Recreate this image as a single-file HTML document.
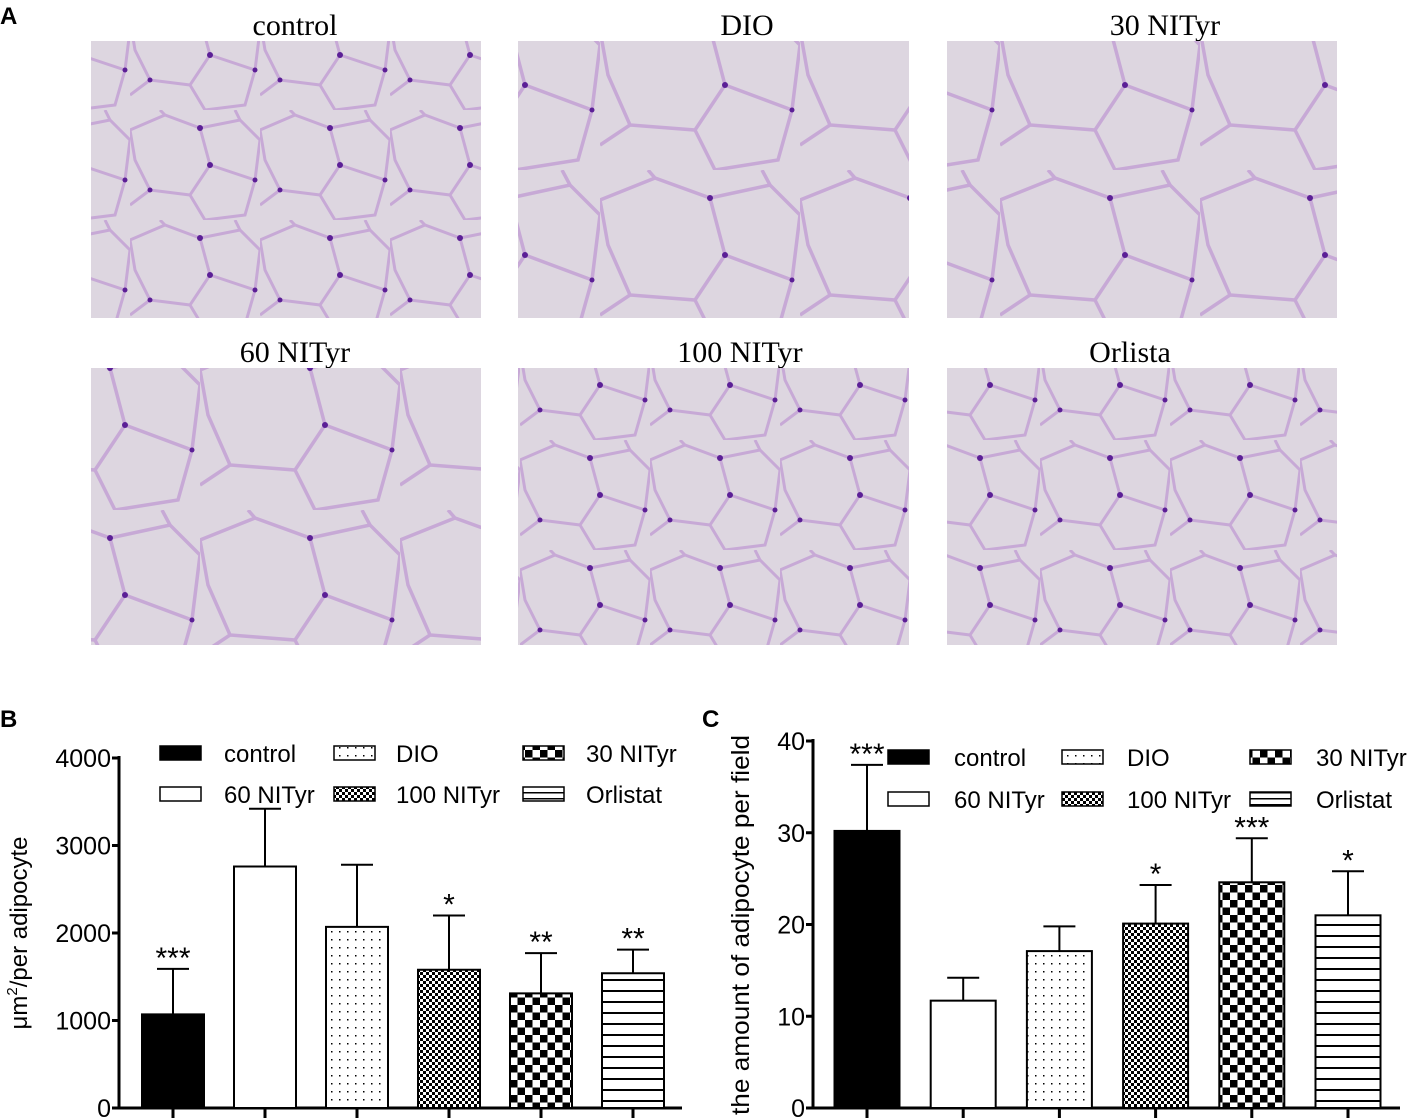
<!DOCTYPE html>
<html><head><meta charset="utf-8"><style>
html,body{margin:0;padding:0;background:#fff;}
svg{display:block;font-family:"Liberation Sans",Arial,sans-serif;}
.ser{font-family:"Liberation Serif","Times New Roman",serif;}
</style></head><body>
<svg id="fig" width="1418" height="1118" viewBox="0 0 1418 1118" xmlns="http://www.w3.org/2000/svg">
<defs>
<pattern id="pDots" width="8" height="8" patternUnits="userSpaceOnUse"><rect width="8" height="8" fill="#fff"/><rect x="3" y="3" width="1.5" height="1.5" fill="#000"/></pattern>
<pattern id="pFine" width="6" height="6" patternUnits="userSpaceOnUse"><rect width="6" height="6" fill="#fff"/><rect width="3" height="3" fill="#000"/><rect x="3" y="3" width="3" height="3" fill="#000"/></pattern>
<pattern id="pCoarse" width="15" height="15" patternUnits="userSpaceOnUse"><rect width="15" height="15" fill="#fff"/><rect width="7.5" height="7.5" fill="#000"/><rect x="7.5" y="7.5" width="7.5" height="7.5" fill="#000"/></pattern>
<pattern id="pStripe" width="10" height="11" patternUnits="userSpaceOnUse"><rect width="10" height="11" fill="#fff"/><rect y="0" width="10" height="2" fill="#000"/></pattern>
<pattern id="pStripeL" width="10" height="6" patternUnits="userSpaceOnUse"><rect width="10" height="6" fill="#fff"/><rect y="0" width="10" height="1.5" fill="#000"/></pattern>
<pattern id="tissue" width="130" height="110" patternUnits="userSpaceOnUse">
<rect width="130" height="110" fill="#ddd6e0"/>
<path d="M0 20 L35 5 L70 18 L80 55 L60 85 L20 80 L5 50 Z M70 18 L110 10 L130 30 L125 70 L80 55 M60 85 L75 110 M125 70 L115 105 L75 110 M20 80 L0 95 M35 5 L30 0 M110 10 L105 0" fill="none" stroke="#c7a9d6" stroke-width="3"/>
<circle cx="70" cy="18" r="3" fill="#5b1f96"/><circle cx="80" cy="55" r="3" fill="#5b1f96"/><circle cx="20" cy="80" r="2.5" fill="#5b1f96"/><circle cx="125" cy="70" r="2.5" fill="#5b1f96"/>
</pattern>
<pattern id="tissueL" width="200" height="170" patternUnits="userSpaceOnUse">
<rect width="200" height="170" fill="#ddd6e0"/>
<path d="M0 30 L55 8 L110 28 L125 85 L95 130 L30 125 L8 75 Z M110 28 L170 15 L200 45 L192 110 L125 85 M95 130 L115 170 M192 110 L178 160 L115 170 M30 125 L0 145 M55 8 L48 0 M170 15 L162 0" fill="none" stroke="#c7a9d6" stroke-width="3.5"/>
<circle cx="110" cy="28" r="3" fill="#5b1f96"/><circle cx="125" cy="85" r="3" fill="#5b1f96"/><circle cx="192" cy="110" r="2.5" fill="#5b1f96"/>
</pattern>
</defs>
<rect width="1418" height="1118" fill="#fff"/>

<text x="0" y="24" font-size="24" font-weight="bold">A</text>
<g>
<text class="ser" x="295" y="35" font-size="30" text-anchor="middle">control</text>
<rect x="91" y="41" width="390" height="277" fill="url(#tissue)"/>
<text class="ser" x="747" y="35" font-size="30" text-anchor="middle">DIO</text>
<rect x="518" y="41" width="391" height="277" fill="url(#tissueL)"/>
<text class="ser" x="1165" y="35" font-size="30" text-anchor="middle">30 NITyr</text>
<rect x="947" y="41" width="390" height="277" fill="url(#tissueL)"/>
<text class="ser" x="295" y="362" font-size="30" text-anchor="middle">60 NITyr</text>
<rect x="91" y="368" width="390" height="277" fill="url(#tissueL)"/>
<text class="ser" x="740" y="362" font-size="30" text-anchor="middle">100 NITyr</text>
<rect x="518" y="368" width="391" height="277" fill="url(#tissue)"/>
<text class="ser" x="1130" y="362" font-size="30" text-anchor="middle">Orlista</text>
<rect x="947" y="368" width="390" height="277" fill="url(#tissue)"/>
</g>

<text x="0" y="727" font-size="24" font-weight="bold">B</text>
<text x="702" y="727" font-size="24" font-weight="bold">C</text>
<g id="chartB"></g>
<g id="chartC"></g>
</svg>
<script>
const groups = ["control","60 NITyr","DIO","100 NITyr","30 NITyr","Orlistat"];
const fills = ["#000","#fff","url(#pDots)","url(#pFine)","url(#pCoarse)","url(#pStripe)"];
const areaMeans = [1070, 2760, 2070, 1580, 1310, 1540];
const areaErrTops = [1590, 3420, 2780, 2200, 1770, 1810];
const areaStars = ["***","","","*","**","**"];
const areaTicks = [0,1000,2000,3000,4000];
const countMeans = [30.2, 11.7, 17.1, 20.1, 24.6, 21.0];
const countErrTops = [37.4, 14.2, 19.8, 24.3, 29.4, 25.8];
const countStars = ["***","","","*","***","*"];
const countTicks = [0,10,20,30,40];
const legendLabels = ["control","DIO","30 NITyr","60 NITyr","100 NITyr","Orlistat"];
const legendFills = ["#000","url(#pDots)","url(#pCoarse)","#fff","url(#pFine)","url(#pStripeL)"];

const NS="http://www.w3.org/2000/svg";
function mk(parent,tag,attrs,text){const e=document.createElementNS(NS,tag);for(const k in attrs)e.setAttribute(k,attrs[k]);if(text!==undefined)e.textContent=text;parent.appendChild(e);return e;}

function drawChart(g,cfg){
  const y=v=>cfg.y0-(v-cfg.min)/(cfg.max-cfg.min)*(cfg.y0-cfg.y1);
  const x=i=>cfg.xc0+i*cfg.step;
  const ya=mk(g,'line',{x1:cfg.ax,y1:cfg.y1-2,x2:cfg.ax,y2:cfg.y0+1.5,stroke:'#000','stroke-width':3});
  
  
  const xa=mk(g,'line',{x1:cfg.ax-1.5,y1:cfg.y0,x2:cfg.xend,y2:cfg.y0,stroke:'#000','stroke-width':3});
  
  
  cfg.ticks.forEach(t=>{
    mk(g,'line',{x1:cfg.ax-7,y1:y(t),x2:cfg.ax,y2:y(t),stroke:'#000','stroke-width':3});
    const tl=mk(g,'text',{x:cfg.ax-8,y:y(t)+9,'font-size':25,'text-anchor':'end'},String(t));
    
    
  });
  groups.forEach((gname,i)=>{
    const cx=x(i);
    mk(g,'line',{x1:cx,y1:cfg.y0,x2:cx,y2:cfg.y0+12,stroke:'#000','stroke-width':3});
    const top=y(cfg.means[i]), et=y(cfg.errs[i]);
    mk(g,'line',{x1:cx,y1:top,x2:cx,y2:et,stroke:'#000','stroke-width':2});
    mk(g,'line',{x1:cx-16,y1:et,x2:cx+16,y2:et,stroke:'#000','stroke-width':2});
    const b=mk(g,'rect',{x:cx-cfg.bw/2,y:top,width:cfg.bw,height:cfg.y0-top,fill:fills[i],stroke:'#000','stroke-width':2});
    
    
    if(cfg.stars[i]){
      const s=mk(g,'text',{x:cx,y:et-1,'font-size':30,'text-anchor':'middle'},cfg.stars[i]);
      
      
    }
  });
  const yl=mk(g,'text',{x:0,y:0,'font-size':cfg.ylfs,'text-anchor':'middle',transform:`translate(${cfg.ylx},${cfg.yly}) rotate(-90)`});
  
  
  if(cfg.sup){yl.appendChild(document.createTextNode('μm'));mk(yl,'tspan',{'font-size':15,dy:-10},'2');mk(yl,'tspan',{dy:10},'/per adipocyte');}
  else {yl.textContent=cfg.ytitle;yl.setAttribute('textLength',cfg.ylLen);yl.setAttribute('lengthAdjust','spacingAndGlyphs');}
  legendLabels.forEach((l,i)=>{
    const col=i%3,row=Math.floor(i/3);
    const rx=cfg.lx[col], ry=cfg.ly[row];
    const lg=mk(g,'g',{});
    
    
    mk(lg,'rect',{x:rx,y:ry-7,width:41,height:14,fill:legendFills[i],stroke:'#000','stroke-width':1.5});
    mk(lg,'text',{x:cfg.tx[col],y:ry+9,'font-size':24},l);
  });
}
drawChart(document.getElementById('chartB'),{min:0,max:4000,y0:1108,y1:758,ax:119,xend:682,xc0:173,step:92,bw:62,
  means:areaMeans,errs:areaErrTops,stars:areaStars,ticks:areaTicks,sup:true,ylx:27,yly:933,ylfs:24,
  lx:[160,334,523],tx:[224,396,586],ly:[753,794]});
drawChart(document.getElementById('chartC'),{min:0,max:40,y0:1108,y1:741,ax:813,xend:1400,xc0:867,step:96.2,bw:65,
  means:countMeans,errs:countErrTops,stars:countStars,ticks:countTicks,sup:false,ytitle:'the amount of adipocyte per field',ylx:749,yly:925,ylfs:25,ylLen:380,
  lx:[888,1062,1250],tx:[954,1127,1316],ly:[757,799]});
</script>
</body></html>
